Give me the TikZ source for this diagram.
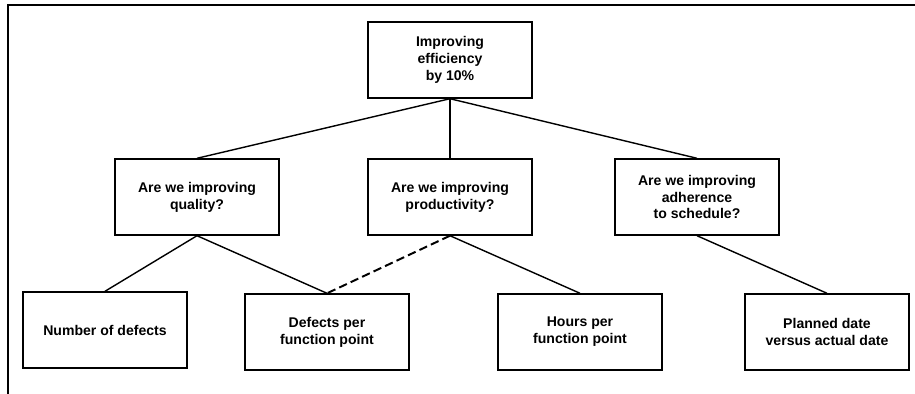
\documentclass[tikz,border=0pt]{standalone}
\usepackage{fontspec}
\setmainfont{Liberation Sans}

\begin{document}
\begin{tikzpicture}[x=0.025cm, y=-0.025cm,
		goalbox/.style={draw, line width=1pt, minimum width=4.1cm, minimum height=1.9cm,
			align=center, font=\bfseries\fontsize{10}{12}\selectfont, inner sep=2pt},
		link/.style={line width=1pt}]
	\useasboundingbox (0,0) rectangle (915,394);

	% frame
	\draw[line width=2pt] (8,394)--(8,5)--(915,5);

	% goal
	\node[goalbox] (goal) at (450,60) {Improving\\efficiency\\by 10\%};

	% questions
	\node[goalbox] (quality) at (197,197) {Are we improving\\quality?};
	\node[goalbox] (product) at (450,197) {Are we improving\\productivity?};
	\node[goalbox] (sched) at (697,197) {Are we improving\\adherence\\to schedule?};

	% metrics
	\node[goalbox] (ndef) at (105,330) {Number of defects};
	\node[goalbox] (defpfp) at (327,332) {Defects per\\function point};
	\node[goalbox] (hrspfp) at (580,332) {Hours per\\function point};
	\node[goalbox] (plandate) at (827,332) {Planned date\\versus actual date};

	\draw[link] (goal.south)--(quality.north);
	\draw[link] (goal.south)--(product.north);
	\draw[link] (goal.south)--(sched.north);

	\draw[link] (quality.south)--(ndef.north);
	\draw[link] (quality.south)--(defpfp.north);
	\draw[link, line width=1.4pt, dash pattern=on 6pt off 3pt] (product.south)--(defpfp.north);
	\draw[link] (product.south)--(hrspfp.north);
	\draw[link] (sched.south)--(plandate.north);
\end{tikzpicture}
\end{document}
